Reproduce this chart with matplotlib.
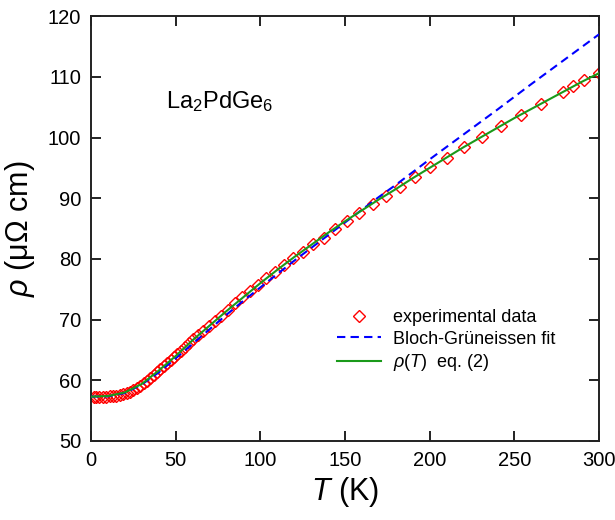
import numpy as np
import matplotlib
matplotlib.use('Agg')
import matplotlib.pyplot as plt

plt.rcParams['font.family'] = ['Liberation Sans', 'DejaVu Sans']
plt.rcParams['mathtext.fontset'] = 'custom'
plt.rcParams['mathtext.rm'] = 'Liberation Sans'
plt.rcParams['mathtext.it'] = 'Liberation Sans:italic'

T_exp = [2, 3, 5, 7, 9, 11, 13, 15, 17, 19, 21, 23, 25, 27, 29, 31, 33, 35,
         37, 39, 41, 43, 45, 47, 49, 51, 53.1, 55.4, 57.8, 60.4, 63.2, 66.2,
         69.5, 73.0, 76.8, 80.8, 85.0, 89.4, 93.9, 98.6, 103.1, 108.4, 113.9,
         119.4, 125.3, 131.2, 137.5, 143.8, 150.9, 158.5, 166.6, 174.4, 182.7,
         191.5, 200.4, 210.2, 220.0, 230.8, 242.0, 253.8, 265.6, 278.6, 284.8,
         291.1, 299.8]
rho_exp = [57.3, 57.3, 57.3, 57.3, 57.3, 57.35, 57.4, 57.45, 57.55, 57.7,
           57.9, 58.1, 58.4, 58.7, 59.1, 59.5, 59.9, 60.4, 60.9, 61.4, 61.9,
           62.4, 62.9, 63.4, 63.9, 64.4, 64.9, 65.4, 66.1, 66.8, 67.5, 68.2,
           69.0, 69.8, 70.6, 71.6, 72.7, 73.7, 74.7, 75.7, 76.8, 77.9, 79.0,
           80.1, 81.2, 82.4, 83.5, 84.9, 86.3, 87.6, 89.0, 90.4, 91.9, 93.5,
           95.1, 96.7, 98.4, 100.1, 101.9, 103.7, 105.6, 107.5, 108.5, 109.5,
           110.7]

# Bloch-Grüneissen fit
T_bg = [0, 10, 20, 30, 40, 50, 60, 70, 80, 90, 100, 110, 120, 130, 140, 150,
        160, 170, 180, 190, 200, 220, 240, 260, 280, 300]
rho_bg = [57.3, 57.35, 57.9, 59.3, 61.3, 63.6, 66.0, 68.4, 70.8, 73.1, 75.3,
          77.5, 79.7, 81.8, 83.9, 86.0, 88.1, 90.2, 92.2, 94.3, 96.4, 100.5,
          104.6, 108.8, 112.9, 117.0]

# rho(T) eq. (2)
T_eq = [0, 10, 20, 30, 40, 50, 60, 70, 80, 90, 100, 110, 120, 130, 140, 150,
        160, 170, 180, 190, 200, 210, 220, 230, 240, 250, 260, 270, 280, 290,
        300]
rho_eq = [57.3, 57.4, 58.0, 59.4, 61.6, 64.0, 66.6, 69.0, 71.4, 73.7, 76.0,
          78.2, 80.3, 82.3, 84.3, 86.2, 88.0, 89.8, 91.5, 93.3, 95.0, 96.7,
          98.4, 100.0, 101.6, 103.2, 104.7, 106.2, 107.7, 109.2, 110.6]

fig = plt.figure(figsize=(6.15, 5.2), dpi=100)
ax = fig.add_axes([0.148, 0.152, 0.826, 0.817])

ax.plot(T_exp, rho_exp, 'D', ms=6.5, mfc='none', mec='red', mew=1.0,
        label='experimental data', zorder=2)
ax.plot(T_bg, rho_bg, '--', color='blue', lw=1.5, dashes=(4, 2.5),
        label='Bloch-Grüneissen fit', zorder=3)
ax.plot(T_eq, rho_eq, '-', color='#1a9a1a', lw=1.5,
        label=r'$\rho$($T$)  eq. (2)', zorder=4)

ax.set_xlim(0, 300)
ax.set_ylim(50, 120)
ax.set_xticks(np.arange(0, 301, 50))
ax.set_yticks(np.arange(50, 121, 10))
ax.tick_params(direction='in', top=True, right=True, length=7, width=1.4,
               labelsize=14.5, color='#222222', pad=7)
for s in ax.spines.values():
    s.set_linewidth(1.4)
    s.set_color('#222222')

ax.set_xlabel(r'$T$ (K)', fontsize=22, labelpad=4)
ax.set_ylabel(r'$\rho$ (μΩ cm)', fontsize=22, labelpad=8)

ax.text(0.148, 0.80, r'La$_2$PdGe$_6$', transform=ax.transAxes, fontsize=17,
        ha='left', va='center')

ax.legend(loc='upper left', bbox_to_anchor=(0.485, 0.31), frameon=False,
          fontsize=13, handlelength=2.4, handletextpad=0.7, labelspacing=0.25,
          borderaxespad=0, borderpad=0)

fig.savefig('out.png', dpi=100)
